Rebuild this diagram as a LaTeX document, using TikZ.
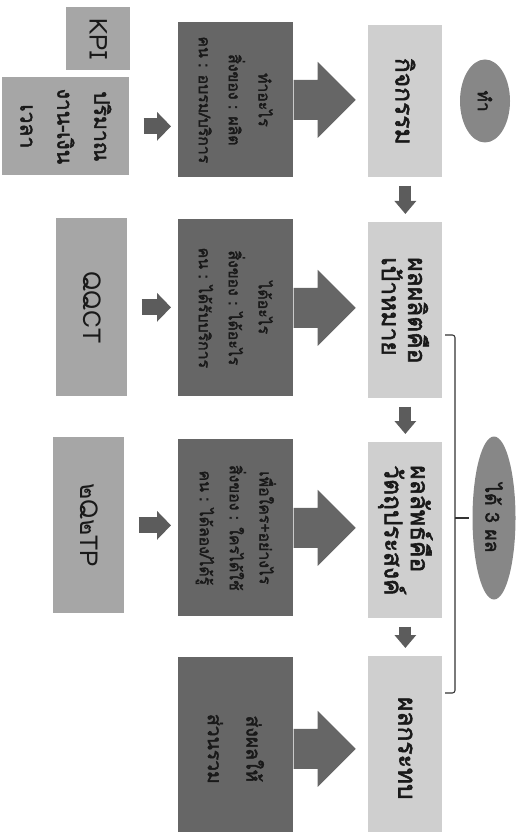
\documentclass[tikz,border=0pt]{standalone}
\usepackage{fontspec}
\newfontfamily\thaifont[Script=Thai, AutoFakeBold=2.2]{Loma}
\usetikzlibrary{arrows.meta,shapes.geometric,calc}

\begin{document}
\begin{tikzpicture}[
      rotate=-90, transform shape,
      every node/.style={font=\thaifont\bfseries, text=black!90, inner sep=0pt},
      side/.style={fill=black!35, anchor=south west, align=center},
      task/.style={fill=black!60, anchor=south west, align=center, font=\thaifont\bfseries\fontsize{9}{17}\selectfont},
      stage/.style={fill=black!19, anchor=south west, align=left, font=\thaifont\bfseries\fontsize{14}{15}\selectfont},
      badge/.style={ellipse, fill=black!47},
      feed/.style={draw=black!64, line width=0.32cm, -{Triangle[length=0.28cm, width=0.56cm]}, shorten <=0.28cm, shorten >=0.14cm},
      flow/.style={draw=black!64, line width=0.24cm, -{Triangle[length=0.26cm, width=0.42cm]}, shorten <=0.16cm, shorten >=0.16cm},
      bracket/.style={draw=black!80, line width=0.6pt, rounded corners=1.5pt},
    ]
    \useasboundingbox (0,0) rectangle (16.64,10.36);

    % measures
    \node[side, minimum width=1.26cm, minimum height=1.28cm, font=\thaifont\fontsize{14}{16}\selectfont] (kpi) at (0.14,1.32) {KPI};
    \node[side, minimum width=1.96cm, minimum height=2.54cm, font=\thaifont\bfseries\fontsize{12}{21}\selectfont] (qty) at (1.54,0.04) {ปริมาณ\\งาน-เงิน\\เวลา};
    \node[side, minimum width=3.56cm, minimum height=1.42cm, font=\thaifont\fontsize{14}{16}\selectfont] (qqct) at (4.36,1.12) {QQCT};
    \node[side, minimum width=3.52cm, minimum height=1.42cm, font=\thaifont\fontsize{14}{16}\selectfont] (tp) at (8.74,1.06) {๒Q๒TP};

    % questions
    \node[task, minimum width=3.10cm, minimum height=2.30cm] (d1) at (0.44,3.56) {ทำอะไร\\สิ่งของ : ผลิต\\คน : อบรม/บริการ};
    \node[task, minimum width=3.54cm, minimum height=2.30cm] (d2) at (4.38,3.56) {ได้อะไร\\สิ่งของ : ได้อะไร\\คน : ได้รับบริการ};
    \node[task, minimum width=3.54cm, minimum height=2.30cm] (d3) at (8.78,3.56) {เพื่อใคร+อย่างไร\\สิ่งของ : ใครได้ใช้\\คน : ได้ลอง/ได้รู้};
    \node[task, minimum width=3.66cm, minimum height=2.30cm, font=\thaifont\bfseries\fontsize{11}{22}\selectfont] (d4) at (13.14,3.56) {ส่งผลให้\\ส่วนรวม};

    \fill[black!60] ($(d1.north)+(-0.4,0)$) -- ++(0,0.48) -- ++(-0.36,0) -- ++(0.76,0.76) -- ++(0.76,-0.76) -- ++(-0.36,0) -- ++(0,-0.48) -- cycle;
    \fill[black!60] ($(d2.north)+(-0.4,0)$) -- ++(0,0.48) -- ++(-0.36,0) -- ++(0.76,0.76) -- ++(0.76,-0.76) -- ++(-0.36,0) -- ++(0,-0.48) -- cycle;
    \fill[black!60] ($(d3.north)+(-0.4,0)$) -- ++(0,0.48) -- ++(-0.36,0) -- ++(0.76,0.76) -- ++(0.76,-0.76) -- ++(-0.36,0) -- ++(0,-0.48) -- cycle;
    \fill[black!60] ($(d4.north)+(-0.4,0)$) -- ++(0,0.48) -- ++(-0.36,0) -- ++(0.76,0.76) -- ++(0.76,-0.76) -- ++(-0.36,0) -- ++(0,-0.48) -- cycle;

    % results
    \node[stage, minimum width=3.04cm, minimum height=1.48cm] (l1) at (0.50,7.36) {กิจกรรม};
    \node[stage, minimum width=3.52cm, minimum height=1.48cm] (l2) at (4.44,7.36) {ผลผลิตคือ\\เป้าหมาย};
    \node[stage, minimum width=3.52cm, minimum height=1.48cm] (l3) at (8.84,7.36) {ผลลัพธ์คือ\\วัตถุประสงค์};
    \node[stage, minimum width=3.68cm, minimum height=1.48cm] (l4) at (13.12,7.36) {ผลกระทบ};

    \node[badge, minimum width=1.66cm, minimum height=1.00cm, font=\thaifont\bfseries\fontsize{10}{12}\selectfont] (e1) at (2.02,9.70) {ทำ};
    \node[badge, minimum width=3.26cm, minimum height=0.86cm, font=\thaifont\bfseries\fontsize{11}{13}\selectfont] (e2) at (10.36,9.88) {ได้ 3 ผล};

    \draw[feed] (qty.north) -- (qty.north |- d1.south);
    \draw[feed] (qqct.north) -- (qqct.north |- d2.south);
    \draw[feed] (tp.north) -- (tp.north |- d3.south);

    \draw[flow] (l1.east) -- (l2.west);
    \draw[flow] (l2.east) -- (l3.west);
    \draw[flow] (l3.east) -- (l4.west);

    \draw[bracket] (6.70,8.90) |- (10.36,9.10) -| (13.86,8.90);
    \draw[bracket, shorten >=2pt] (10.36,9.10) -- (e2.south);

  \end{tikzpicture}
\end{document}
